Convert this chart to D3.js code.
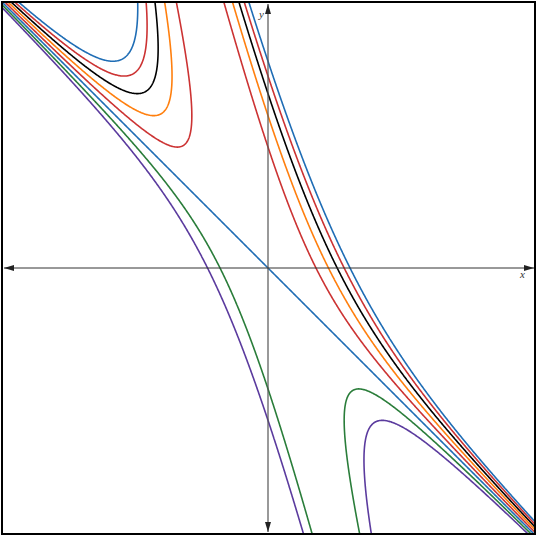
<!DOCTYPE html>
<html>
<head>
<meta charset="utf-8">
<script src="https://cdn.jsdelivr.net/npm/d3@7"></script>
<style>
  body { margin: 0; background: #fff; }
  svg { display: block; }
</style>
</head>
<body>
<div id="chart"></div>
<script>
// level curves (x + y) * |y + k x|^b = c
var levels = [5, 4, 3, 2, 1, 0, -1, -2];
var levelColors = ["#1f6db5", "#cc3333", "#000000", "#ff7f0e", "#cc3333", "#1f6db5", "#2a7d3a", "#5b3b9e"];
var slopeK = 4;
var powerB = 2;
var axisExtent = [-2.2, 2.2];
var axisNames = ["x", "y"];

var svgWidth = 538, svgHeight = 537;

var x = d3.scaleLinear().domain(axisExtent).range([2, 534]);
var y = d3.scaleLinear().domain(axisExtent).range([534, 2]);

var svg = d3.select('#chart').append('svg')
	.attr('width', svgWidth).attr('height', svgHeight);

svg.append('defs').append('clipPath').attr('id', 'plotclip')
	.append('rect').attr('x', 2).attr('y', 2).attr('width', 533).attr('height', 532);

// sample the function on a grid a bit larger than the plot
var n = 700;
var g0 = axisExtent[0] - 0.1, g1 = axisExtent[1] + 0.1;
var step = (g1 - g0) / n;
var values = new Float64Array(n * n);
for (var j = 0; j < n; j++) {
	var yy = g1 - (j + 0.5) * step;
	for (var i = 0; i < n; i++) {
		var xx = g0 + (i + 0.5) * step;
		values[j * n + i] = (xx + yy) * Math.pow(Math.abs(yy + slopeK * xx), powerB);
	}
}

var contours = d3.contours().size([n, n]).thresholds(levels)(values);

var toScreen = d3.geoTransform({
	point: function(u, v) {
		this.stream.point(x(g0 + u * step), y(g1 - v * step));
	}
});
var path = d3.geoPath(toScreen);

var curves = svg.append('g').attr('clip-path', 'url(#plotclip)');
curves.selectAll('path').data(contours)
	.enter().append('path')
	.attr('d', path)
	.attr('fill', 'none')
	.attr('stroke', function(d) { return levelColors[levels.indexOf(d.value)]; })
	.attr('stroke-width', 1.6)
	.attr('stroke-linejoin', 'round');

// axes with arrows at both ends
var defs = svg.select('defs');
defs.append('marker').attr('id', 'arrow')
	.attr('viewBox', '0 0 10 6').attr('refX', 10).attr('refY', 3)
	.attr('markerWidth', 10).attr('markerHeight', 6)
	.attr('markerUnits', 'userSpaceOnUse')
	.attr('orient', 'auto-start-reverse')
	.append('path').attr('d', 'M0,0 L10,3 L0,6 Z').attr('fill', '#222');

svg.append('line')
	.attr('x1', x(axisExtent[0]) + 2).attr('x2', x(axisExtent[1]))
	.attr('y1', y(0)).attr('y2', y(0))
	.attr('stroke', '#333').attr('stroke-width', 1)
	.attr('marker-start', 'url(#arrow)').attr('marker-end', 'url(#arrow)');

svg.append('line')
	.attr('x1', x(0)).attr('x2', x(0))
	.attr('y1', y(axisExtent[0]) - 2).attr('y2', y(axisExtent[1]) + 2)
	.attr('stroke', '#555').attr('stroke-width', 1.2)
	.attr('marker-start', 'url(#arrow)').attr('marker-end', 'url(#arrow)');

svg.append('text')
	.attr('x', x(axisExtent[1]) - 14).attr('y', y(0) + 10)
	.style('font-family', 'Liberation Serif, DejaVu Serif, serif')
	.style('font-style', 'italic').style('font-size', '11px').style('fill', '#333')
	.text(axisNames[0]);

svg.append('text')
	.attr('x', x(0) - 9).attr('y', y(axisExtent[1]) + 16)
	.style('font-family', 'Liberation Serif, DejaVu Serif, serif')
	.style('font-style', 'italic').style('font-size', '11px').style('fill', '#333')
	.text(axisNames[1]);

// frame
svg.append('rect')
	.attr('x', 2).attr('y', 2).attr('width', 533).attr('height', 532)
	.attr('fill', 'none').attr('stroke', '#000').attr('stroke-width', 2);
</script>
</body>
</html>
